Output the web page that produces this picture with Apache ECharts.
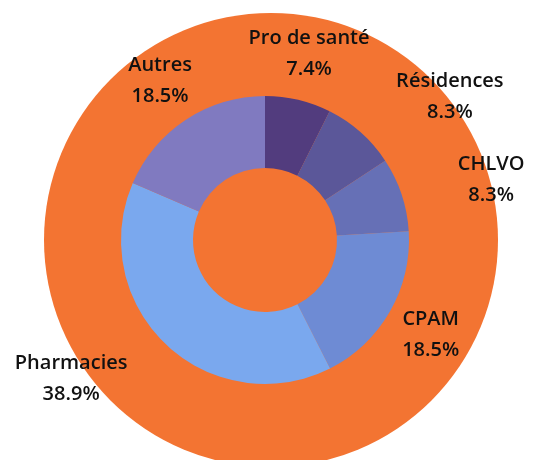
<!DOCTYPE html>
<html>
<head>
<meta charset="utf-8">
<script src="https://cdn.jsdelivr.net/npm/echarts@6/dist/echarts.min.js"></script>
<style>
  html, body { margin: 0; padding: 0; background: #fff; }
  #chart { width: 533px; height: 460px; }
</style>
</head>
<body>
<div id="chart"></div>
<script>
  // données
  const categories = ['Pro de santé', 'Résidences', 'CHLVO', 'CPAM', 'Pharmacies', 'Autres'];
  const shares = [7.4, 8.3, 8.3, 18.5, 38.9, 18.5];
  const colors = ['#523c7e', '#5b5799', '#6670b6', '#6e8bd4', '#7aa8ee', '#807ac0'];

  // position des étiquettes (style)
  const CX = 265, CY = 240;
  const labelRadius = 191;
  const labelShiftX = [0, 58, 45, 0, -63, 0];

  const total = shares.reduce((a, b) => a + b, 0);
  const midAngles = [];
  let acc = 0;
  shares.forEach(v => {
    midAngles.push((acc + v / 2) / total * Math.PI * 2);
    acc += v;
  });

  const chart = echarts.init(document.getElementById('chart'));
  chart.setOption({
    animation: false,
    series: [
      {
        type: 'pie',
        silent: true,
        center: [271, 240],
        radius: [0, 227],
        label: { show: false },
        labelLine: { show: false },
        itemStyle: { color: '#f37432' },
        data: [{ name: 'fond', value: 1 }]
      },
      {
        type: 'pie',
        center: [CX, CY],
        radius: [72, 144],
        startAngle: 90,
        clockwise: true,
        label: {
          show: true,
          position: 'inside',
          formatter: p => p.name + '\n' + p.value.toFixed(1) + '%',
          color: '#111',
          fontFamily: 'Open Sans',
          fontWeight: 600,
          fontSize: 20,
          lineHeight: 31,
          align: 'center'
        },
        labelLine: { show: false },
        labelLayout: function (p) {
          const a = midAngles[p.dataIndex];
          return {
            x: CX + labelRadius * Math.sin(a) + labelShiftX[p.dataIndex],
            y: CY - labelRadius * Math.cos(a),
            align: 'center',
            verticalAlign: 'middle'
          };
        },
        data: categories.map((c, i) => ({
          name: c,
          value: shares[i],
          itemStyle: { color: colors[i] }
        }))
      }
    ]
  });
</script>
</body>
</html>
